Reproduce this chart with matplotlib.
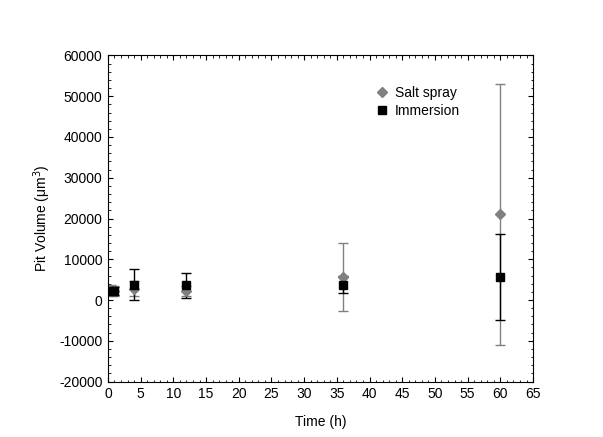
import matplotlib.pyplot as plt
from matplotlib.ticker import MultipleLocator

plt.rcParams['font.family'] = ['Liberation Sans', 'DejaVu Sans']
plt.rcParams['axes.unicode_minus'] = False

# time points (h)
time = [0.5, 1, 4, 12, 36, 60]
# salt spray pit volume (um^3) and std
salt_mean = [2300, 2200, 2800, 2200, 5600, 21000]
salt_err = [1400, 1300, 1800, 1300, 8400, 32000]
# immersion pit volume and std
imm_mean = [2300, 2200, 3800, 3600, 3800, 5700]
imm_err = [900, 900, 3900, 3100, 2100, 10500]

fig = plt.figure(figsize=(6.03, 4.37), dpi=100)
ax = fig.add_axes([0.179, 0.127, 0.705, 0.746])

ax.errorbar(time, salt_mean, yerr=salt_err, fmt='D', color='#808080', ms=5,
            ecolor='#808080', elinewidth=1, capsize=3.5, capthick=1, label='Salt spray')
ax.errorbar(time, imm_mean, yerr=imm_err, fmt='s', color='black', ms=6,
            ecolor='black', elinewidth=1, capsize=3.5, capthick=1, label='Immersion')

ax.set_xlim(0, 65)
ax.set_ylim(-20000, 60000)
ax.xaxis.set_major_locator(MultipleLocator(5))
ax.xaxis.set_minor_locator(MultipleLocator(1))
ax.yaxis.set_major_locator(MultipleLocator(10000))
ax.yaxis.set_minor_locator(MultipleLocator(2000))
ax.tick_params(which='both', direction='in', top=True, right=True, labelsize=10)
ax.tick_params(which='major', length=3.5, pad=4)
ax.tick_params(which='minor', length=1.8)

ax.set_xlabel('Time (h)', fontsize=10, labelpad=10)
ax.set_ylabel('Pit Volume (\u03bcm$^3$)', fontsize=10)

handles, labels = ax.get_legend_handles_labels()
handles = [h[0] for h in handles]
ax.legend(handles, labels, loc='upper left', bbox_to_anchor=(0.6, 0.945),
          frameon=False, fontsize=10, handletextpad=0.4, labelspacing=0.3, handlelength=1)

fig.savefig('out.png', dpi=100)
